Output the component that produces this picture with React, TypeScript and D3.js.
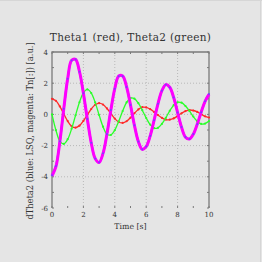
import React from "react";
import * as d3 from "d3";

const TIME = d3.range(0, 41).map((i) => i * 0.25);

const THETA1 = [1.0, 0.87, 0.51, 0.035, -0.43, -0.76, -0.85, -0.72, -0.42, -0.03, 0.345, 0.62, 0.72, 0.63, 0.38, 0.05, -0.27, -0.49, -0.547, -0.44, -0.21, 0.073, 0.32, 0.46, 0.45, 0.34, 0.16, -0.04, -0.22, -0.33, -0.34, -0.26, -0.105, 0.07, 0.21, 0.28, 0.25, 0.16, 0.015, -0.126, -0.2];

const THETA2 = [0.0, -1.01, -1.71, -1.89, -1.59, -0.92, -0.06, 0.78, 1.38, 1.6, 1.37, 0.77, -0.04, -0.79, -1.27, -1.32, -1.01, -0.44, 0.21, 0.77, 1.05, 1.01, 0.72, 0.27, -0.23, -0.65, -0.88, -0.86, -0.61, -0.22, 0.23, 0.59, 0.78, 0.75, 0.54, 0.22, -0.14, -0.44, -0.61, -0.59, -0.43];

const DTHETA2_TN = [-3.95, -3.35, -1.75, 0.36, 2.3, 3.47, 3.53, 2.75, 1.36, -0.3, -1.83, -2.83, -3.08, -2.5, -1.25, 0.29, 1.66, 2.46, 2.46, 1.77, 0.6, -0.7, -1.74, -2.24, -2.07, -1.39, -0.38, 0.68, 1.52, 1.91, 1.74, 1.08, 0.12, -0.82, -1.46, -1.58, -1.27, -0.63, 0.14, 0.84, 1.28];

const DTHETA2_LSQ = [-3.9, -3.3, -1.72, 0.36, 2.28, 3.45, 3.52, 2.74, 1.36, -0.29, -1.82, -2.82, -3.07, -2.49, -1.25, 0.29, 1.65, 2.45, 2.45, 1.76, 0.6, -0.7, -1.73, -2.23, -2.06, -1.39, -0.38, 0.68, 1.51, 1.9, 1.73, 1.08, 0.12, -0.81, -1.45, -1.57, -1.26, -0.63, 0.14, 0.84, 1.3];

const X_TICKS = [0, 2, 4, 6, 8, 10];
const Y_TICKS = [4, 2, 0, -2, -4, -6];

const TITLE = "Theta1 (red), Theta2 (green)";
const X_LABEL = "Time [s]";
const Y_LABEL = "dTheta2 (blue: LSQ, magenta: Tn[:]) [a.u.]";

export default function App() {
  const W = 262, H = 262;
  const L = 52, R = 209, T = 52, B = 208;
  const x = d3.scaleLinear().domain([0, 10]).range([L, R]);
  const y = d3.scaleLinear().domain([-6, 4]).range([B, T]);
  const mk = (vals: number[]) =>
    d3.line<number>().x((_, i) => x(TIME[i])).y((v) => y(v)).curve(d3.curveCatmullRom)(vals) || "";
  const font = "DejaVu Serif";
  const axisColor = "#7a7a7a";
  const gridColor = "#b8b8b8";
  const textColor = "#333";
  const ints = d3.range(0, 11);
  const yints = d3.range(-6, 5);

  return (
    <svg width={W} height={H} style={{ position: "fixed", left: 0, top: 0 }}>
      <rect x={0} y={0} width={W} height={H} fill="#e5e5e5" />
      <line x1={0} y1={0.5} x2={W} y2={0.5} stroke="#d6d6d6" />
      <line x1={260.5} y1={0} x2={260.5} y2={H} stroke="#d6d6d6" />
      {/* grid */}
      {X_TICKS.filter((t) => t > 0 && t < 10).map((t) => (
        <line key={"gx" + t} x1={x(t)} x2={x(t)} y1={T} y2={B} stroke={gridColor} strokeDasharray="1,2" />
      ))}
      {Y_TICKS.filter((t) => t > -6 && t < 4).map((t) => (
        <line key={"gy" + t} x1={L} x2={R} y1={y(t)} y2={y(t)} stroke={gridColor} strokeDasharray="1,2" />
      ))}
      {/* minor ticks */}
      {ints.map((t) => (
        <g key={"tx" + t}>
          <line x1={x(t)} x2={x(t)} y1={B} y2={B - 2} stroke={axisColor} />
          <line x1={x(t)} x2={x(t)} y1={T} y2={T + 2} stroke={axisColor} />
        </g>
      ))}
      {yints.map((t) => (
        <g key={"ty" + t}>
          <line x1={L} x2={L + 2} y1={y(t)} y2={y(t)} stroke={axisColor} />
          <line x1={R} x2={R - 2} y1={y(t)} y2={y(t)} stroke={axisColor} />
        </g>
      ))}
      {/* frame */}
      <path d={`M${L},${B}V${T}H${R}V${B}`} fill="none" stroke={axisColor} strokeWidth={1.3} />
      {/* series */}
      <path d={mk(THETA1)} fill="none" stroke="#ff2a2a" strokeWidth={1.3} />
      {THETA1.map((v, i) => (
        <circle key={"r" + i} cx={x(TIME[i])} cy={y(v)} r={1.1} fill="#ff2a2a" />
      ))}
      <path d={mk(THETA2)} fill="none" stroke="#2aff2a" strokeWidth={1.3} />
      {THETA2.map((v, i) => (
        <circle key={"g" + i} cx={x(TIME[i])} cy={y(v)} r={1.1} fill="#2aff2a" />
      ))}
      <path d={mk(DTHETA2_LSQ)} fill="none" stroke="#5050ff" strokeWidth={2} />
      <path d={mk(DTHETA2_TN)} fill="none" stroke="#ff00ff" strokeWidth={3} />
      {DTHETA2_LSQ.map((v, i) => (
        <circle key={"b" + i} cx={x(TIME[i])} cy={y(v)} r={1} fill="#7a40ff" />
      ))}
      {/* tick labels */}
      {X_TICKS.map((t) => (
        <text key={"lx" + t} x={x(t)} y={B + 8.5} fontFamily={font} fontSize={7} textAnchor="middle" fill={textColor}>
          {t}
        </text>
      ))}
      {Y_TICKS.map((t) => (
        <text key={"ly" + t} x={L - 4} y={y(t) + 2.5} fontFamily={font} fontSize={7} textAnchor="end" fill={textColor}>
          {t < 0 ? "-" + Math.abs(t) : t}
        </text>
      ))}
      <text x={130.5} y={41} fontFamily={font} fontSize={10.5} letterSpacing={0.3} textAnchor="middle" fill={textColor}>
        {TITLE}
      </text>
      <text x={130.5} y={229} fontFamily={font} fontSize={7.8} textAnchor="middle" fill={textColor}>
        {X_LABEL}
      </text>
      <text
        transform={`translate(33,131) rotate(-90)`}
        fontFamily={font}
        fontSize={8.3}
        textAnchor="middle"
        fill={textColor}
      >
        {Y_LABEL}
      </text>
    </svg>
  );
}
